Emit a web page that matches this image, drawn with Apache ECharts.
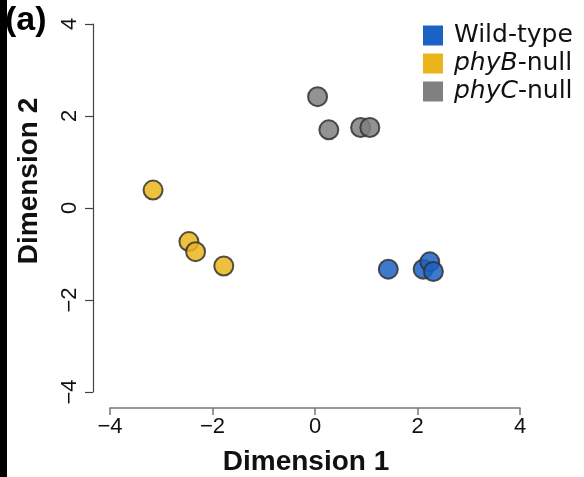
<!DOCTYPE html>
<html>
<head>
<meta charset="utf-8">
<script src="https://cdn.jsdelivr.net/npm/echarts@6/dist/echarts.min.js"></script>
<style>
  html, body { margin: 0; padding: 0; background: #fff; }
  #main { width: 584px; height: 477px; }
</style>
</head>
<body>
<div id="main"></div>
<script>
// groups and their colours
var groupNames = ['Wild-type', 'phyB-null', 'phyC-null'];
var groupColors = ['#1c62c4', '#eab51c', '#808080'];

// Dimension 1 / Dimension 2 per sample
var wildX = [1.43, 2.11, 2.24, 2.31];
var wildY = [-1.33, -1.33, -1.17, -1.38];
var phyBX = [-3.16, -2.46, -2.33, -1.78];
var phyBY = [0.39, -0.73, -0.95, -1.26];
var phyCX = [0.05, 0.27, 0.89, 1.07];
var phyCY = [2.42, 1.70, 1.75, 1.75];

function pairs(xs, ys) {
    var out = [];
    for (var i = 0; i < xs.length; i++) {
        out.push([xs[i], ys[i]]);
    }
    return out;
}
function minusFmt(v) {
    return String(v).replace('-', '\u2212');
}

var seriesData = [pairs(wildX, wildY), pairs(phyBX, phyBY), pairs(phyCX, phyCY)];

var myChart = echarts.init(document.getElementById('main'));

var series = [];
for (var k = 0; k < groupNames.length; k++) {
    series.push({
        name: groupNames[k],
        type: 'scatter',
        symbol: 'circle',
        symbolSize: 19,
        itemStyle: {
            color: groupColors[k],
            opacity: 0.85,
            borderColor: '#333',
            borderWidth: 2
        },
        emphasis: { disabled: true },
        data: seriesData[k]
    });
}

var option = {
    animation: false,
    backgroundColor: '#fff',
    grid: {
        left: 110,
        right: 64,
        top: 24,
        bottom: 85
    },
    legend: {
        orient: 'vertical',
        left: 418,
        top: 18,
        itemWidth: 20,
        itemHeight: 20,
        itemGap: 3,
        icon: 'rect',
        data: groupNames.map(function(n, i) {
            return { name: n, itemStyle: { color: groupColors[i], opacity: 1, borderWidth: 0 } };
        }),
        formatter: function(name) {
            if (name === 'phyB-null') return '{i|phyB}-null';
            if (name === 'phyC-null') return '{i|phyC}-null';
            return name;
        },
        textStyle: {
            fontFamily: 'DejaVu Sans',
            fontSize: 25,
            lineHeight: 21,
            color: '#111',
            padding: [0, 0, 0, 6],
            rich: {
                i: { fontFamily: 'DejaVu Sans', fontStyle: 'italic', fontSize: 25, lineHeight: 21, color: '#111' }
            }
        }
    },
    xAxis: {
        type: 'value',
        min: -4,
        max: 4,
        interval: 2,
        offset: 16,
        splitLine: { show: false },
        axisLine: { show: true, onZero: false, lineStyle: { color: '#777', width: 1.5 } },
        axisTick: { show: true, length: 7, lineStyle: { color: '#777', width: 1.5 } },
        axisLabel: {
            margin: 8,
            fontFamily: 'Liberation Sans',
            fontSize: 22,
            color: '#111',
            formatter: minusFmt
        }
    },
    yAxis: {
        type: 'value',
        min: -4,
        max: 4,
        interval: 2,
        offset: 17,
        splitLine: { show: false },
        axisLine: { show: true, onZero: false, lineStyle: { color: '#444', width: 1.2 } },
        axisTick: { show: true, length: 8, lineStyle: { color: '#444', width: 1.2 } },
        axisLabel: {
            rotate: 90,
            margin: 12,
            fontFamily: 'Liberation Sans',
            fontSize: 22,
            color: '#111',
            formatter: minusFmt
        }
    },
    graphic: [
        {
            type: 'rect',
            left: 0,
            top: 0,
            shape: { width: 7, height: 477 },
            style: { fill: '#000' }
        },
        {
            type: 'text',
            left: 5,
            top: 4,
            style: {
                text: '(a)',
                fontFamily: 'Liberation Sans',
                fontWeight: 'bold',
                fontSize: 34,
                fill: '#000'
            }
        },
        {
            type: 'text',
            x: 306,
            y: 462,
            style: {
                text: 'Dimension 1',
                fontFamily: 'Liberation Sans',
                fontWeight: 'bold',
                fontSize: 28,
                fill: '#111',
                align: 'center',
                verticalAlign: 'middle'
            }
        },
        {
            type: 'text',
            x: 29,
            y: 181,
            rotation: Math.PI / 2,
            style: {
                text: 'Dimension 2',
                fontFamily: 'Liberation Sans',
                fontWeight: 'bold',
                fontSize: 28,
                fill: '#111',
                align: 'center',
                verticalAlign: 'middle'
            }
        }
    ],
    series: series
};

myChart.setOption(option);
</script>
</body>
</html>
